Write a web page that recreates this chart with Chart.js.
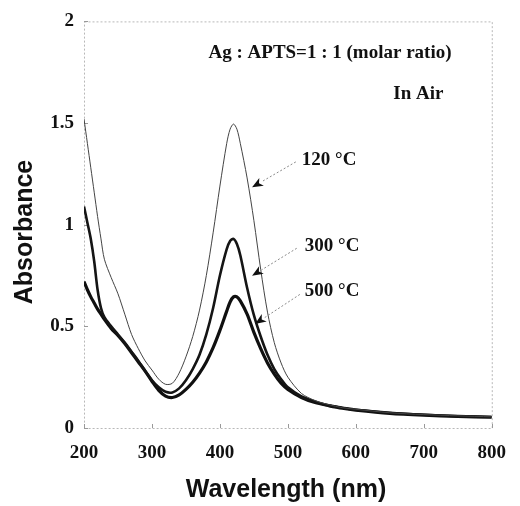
<!DOCTYPE html>
<html>
<head>
<meta charset="utf-8">
<script src="https://cdn.jsdelivr.net/npm/chart.js@4.4.1/dist/chart.umd.min.js"></script>
<style>
html,body{margin:0;padding:0;background:#fff;}
#wrap{width:520px;height:506px;position:relative;}
</style>
</head>
<body>
<div id="wrap"><canvas id="c" width="520" height="506"></canvas></div>
<script>
// ---- data ----
const wavelengths = [200,205,210,215,220,225,230,240,250,260,270,280,290,300,310,320,330,340,350,360,370,380,390,400,410,415,420,425,430,440,450,460,470,480,490,500,520,540,560,580,600,650,700,750,800];
const abs120 = [1.52,1.40,1.28,1.16,1.04,0.93,0.83,0.74,0.66,0.56,0.46,0.39,0.33,0.285,0.24,0.215,0.22,0.27,0.35,0.45,0.58,0.75,0.96,1.19,1.40,1.47,1.495,1.47,1.40,1.23,1.02,0.78,0.57,0.42,0.32,0.25,0.17,0.135,0.115,0.10,0.092,0.075,0.066,0.06,0.055];
const abs300 = [1.09,1.01,0.93,0.82,0.68,0.59,0.545,0.50,0.46,0.42,0.375,0.33,0.28,0.235,0.20,0.178,0.175,0.195,0.235,0.29,0.36,0.46,0.59,0.75,0.88,0.92,0.93,0.905,0.85,0.69,0.555,0.45,0.36,0.29,0.24,0.20,0.155,0.13,0.11,0.10,0.09,0.075,0.065,0.058,0.054];
const abs500 = [0.72,0.68,0.645,0.615,0.585,0.56,0.535,0.49,0.455,0.415,0.37,0.325,0.28,0.23,0.185,0.157,0.15,0.163,0.19,0.225,0.27,0.325,0.395,0.48,0.575,0.62,0.645,0.645,0.625,0.56,0.47,0.39,0.32,0.265,0.22,0.19,0.15,0.125,0.11,0.097,0.088,0.072,0.063,0.057,0.053];
const seriesLabels = ['120 °C','300 °C','500 °C'];
const xTicks = [200,300,400,500,600,700,800];
const yTicks = [0,0.5,1,1.5,2];
const xTitle = 'Wavelength (nm)';
const yTitle = 'Absorbance';
const noteTitle = 'Ag : APTS=1 : 1 (molar ratio)';
const noteAir = 'In Air';
// annotation anchors in data units: text [nm, A], arrow from [nm, A] to [nm, A]
const labelNotes = [
  {text: seriesLabels[0], at:[520.5,1.319], from:[511.7,1.309], to:[447.3,1.184]},
  {text: seriesLabels[1], at:[525,0.894], from:[513,0.884], to:[447.3,0.749]},
  {text: seriesLabels[2], at:[525,0.671], from:[517.6,0.657], to:[451.7,0.512]}
];

const pts = arr => wavelengths.map((w,i)=>({x:w,y:arr[i]}));
const serifBold = 'bold 19px "Liberation Serif", "Times New Roman", serif';
const sansBold = 'bold 25px "Liberation Sans", Arial, sans-serif';

const decor = {
  id:'decor',
  beforeDatasetsDraw(chart){
    const {ctx, chartArea:a, scales:{x,y}} = chart;
    ctx.save();
    ctx.strokeStyle = '#b8b8b8';
    ctx.lineWidth = 1;
    ctx.setLineDash([2,2]);
    ctx.strokeRect(a.left+0.5, a.top+0.5, a.right-a.left, a.bottom-a.top);
    ctx.setLineDash([]);
    ctx.strokeStyle = '#999';
    xTicks.forEach(t=>{ const px=Math.round(x.getPixelForValue(t))+0.5; ctx.beginPath(); ctx.moveTo(px,a.bottom); ctx.lineTo(px,a.bottom-4); ctx.stroke();});
    yTicks.forEach(t=>{ const py=Math.round(y.getPixelForValue(t))+0.5; ctx.beginPath(); ctx.moveTo(a.left,py); ctx.lineTo(a.left+4,py); ctx.stroke();});
    ctx.restore();
  },
  afterDraw(chart){
    const {ctx, chartArea:a, scales:{x,y}} = chart;
    ctx.save();
    ctx.fillStyle = '#111';
    // axis titles
    ctx.font = sansBold;
    ctx.textAlign = 'center';
    ctx.textBaseline = 'middle';
    ctx.fillText(xTitle, 286, 490);
    ctx.save();
    ctx.translate(25, 232);
    ctx.rotate(-Math.PI/2);
    ctx.fillText(yTitle, 0, 0);
    ctx.restore();
    // notes
    ctx.font = serifBold;
    ctx.fillText(noteTitle, x.getPixelForValue(562), y.getPixelForValue(1.845));
    ctx.fillText(noteAir, x.getPixelForValue(692), y.getPixelForValue(1.643));
    ctx.textAlign = 'left';
    labelNotes.forEach(n=>{
      ctx.fillStyle = '#111';
      ctx.fillText(n.text, x.getPixelForValue(n.at[0]), y.getPixelForValue(n.at[1]));
      const x1=x.getPixelForValue(n.from[0]), y1=y.getPixelForValue(n.from[1]);
      const x2=x.getPixelForValue(n.to[0]), y2=y.getPixelForValue(n.to[1]);
      const ang=Math.atan2(y2-y1,x2-x1);
      const hl=11, hw=4.5;
      const bx=x2-hl*Math.cos(ang), by=y2-hl*Math.sin(ang);
      ctx.strokeStyle='#8a8a8a'; ctx.lineWidth=1; ctx.setLineDash([2,2]);
      ctx.beginPath(); ctx.moveTo(x1,y1); ctx.lineTo(bx,by); ctx.stroke();
      ctx.setLineDash([]);
      ctx.fillStyle='#111';
      ctx.beginPath();
      ctx.moveTo(x2,y2);
      ctx.lineTo(bx+hw*Math.sin(ang), by-hw*Math.cos(ang));
      ctx.lineTo(bx+3*Math.cos(ang), by+3*Math.sin(ang));
      ctx.lineTo(bx-hw*Math.sin(ang), by+hw*Math.cos(ang));
      ctx.closePath(); ctx.fill();
    });
    ctx.restore();
  }
};

new Chart(document.getElementById('c'), {
  type:'line',
  data:{ datasets:[
    {label:seriesLabels[0], data:pts(abs120), borderColor:'#444', borderWidth:1, pointRadius:0, tension:0.3},
    {label:seriesLabels[1], data:pts(abs300), borderColor:'#151515', borderWidth:2.6, pointRadius:0, tension:0.3},
    {label:seriesLabels[2], data:pts(abs500), borderColor:'#101010', borderWidth:3.2, pointRadius:0, tension:0.3}
  ]},
  options:{
    responsive:false, animation:false, devicePixelRatio:1,
    layout:{padding:{left:0, top:14, right:26, bottom:0}},
    plugins:{legend:{display:false}, tooltip:{enabled:false}},
    scales:{
      x:{type:'linear', min:200, max:800,
        afterBuildTicks(s){ s.ticks = xTicks.map(v=>({value:v})); },
        afterFit(s){ s.height = 78; },
        grid:{display:false, drawTicks:false}, border:{display:false},
        ticks:{padding:14, color:'#111', font:{family:'"Liberation Serif", "Times New Roman", serif', size:19, weight:'bold'}, maxRotation:0}
      },
      y:{type:'linear', min:0, max:2,
        afterBuildTicks(s){ s.ticks = yTicks.map(v=>({value:v})); },
        afterFit(s){ s.width = 84; },
        grid:{display:false, drawTicks:false}, border:{display:false},
        ticks:{padding:10, color:'#111', font:{family:'"Liberation Serif", "Times New Roman", serif', size:19, weight:'bold'}, callback:v=>String(v)}
      }
    }
  },
  plugins:[decor]
});
</script>
</body>
</html>
